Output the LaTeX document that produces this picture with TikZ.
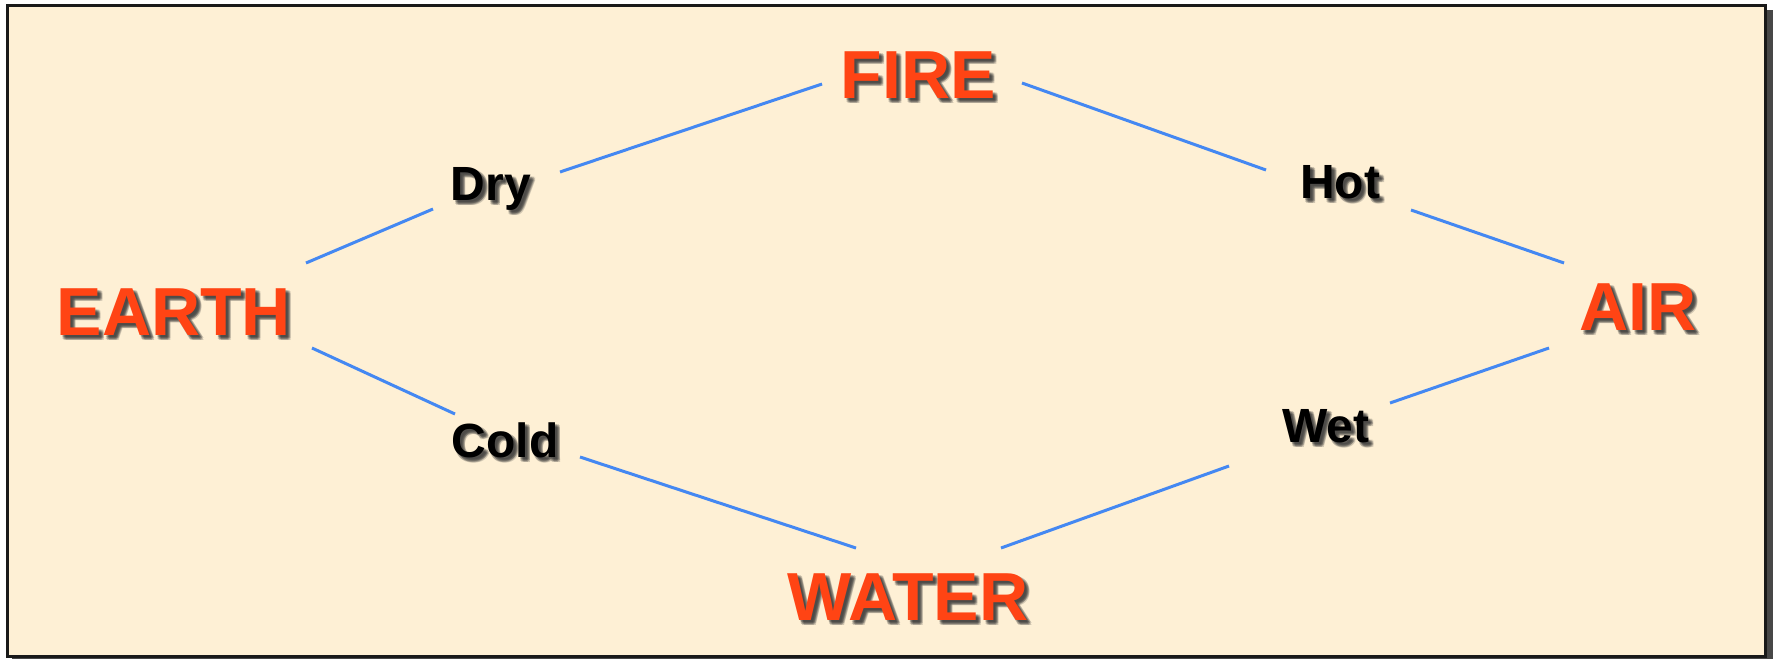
\documentclass[tikz,border=0pt]{standalone}
\usepackage{fontspec}
\setmainfont{Liberation Sans}
\definecolor{bgcol}{RGB}{254,240,213}
\definecolor{redtxt}{RGB}{255,68,20}
\definecolor{linecol}{RGB}{68,136,242}
\tikzset{
  x=1pt, y=-1pt,
  element/.style={font=\fontsize{68}{68}\selectfont\bfseries, text=redtxt, anchor=base, inner sep=0},
  quality/.style={font=\fontsize{48}{48}\selectfont\bfseries, text=black, anchor=base, inner sep=0},
  shadowtxt/.style={text=black!80, opacity=0.22},
  link/.style={draw=linecol, line width=3pt},
}
\begin{document}
\begin{tikzpicture}
\useasboundingbox (0,0) rectangle (1773,659);
\fill[white] (0,0) rectangle (1773,659);
% frame with shadow
\fill[black!72] (12,10) rectangle (1773,659);
\draw[fill=bgcol, line width=3pt, draw=black!90] (7.5,5.5) rectangle (1765,656);
% blurred shadows of texts
\foreach \t/\x/\y/\s in {FIRE/918/98/element, EARTH/174/335/element, AIR/1638/330/element, WATER/908/620/element,
  Dry/491/200/quality, Hot/1340/198/quality, Wet/1326/442/quality, Cold/505/457/quality}{
  \foreach \dx/\dy [count=\k] in {2/2,3/3,4/4,5/5,3/5,5/3,4/2,2/4}{
    \node[\s, shadowtxt] (sh\t\k) at (\x+\dx,\y+\dy) {\t};
  }
}
% texts
\node[element] (fire)  at (918,98)  {FIRE};
\node[element] (earth) at (174,335) {EARTH};
\node[element] (air)   at (1638,330) {AIR};
\node[element] (water) at (908,620) {WATER};
\node[quality] (dry)  at (491,200) {Dry};
\node[quality] (hot)  at (1340,198) {Hot};
\node[quality] (wet)  at (1326,442) {Wet};
\node[quality] (cold) at (505,457) {Cold};
% connector end points
\coordinate (fireL) at (822,84);   \coordinate (dryR) at (560,172);
\coordinate (fireR) at (1022,83);  \coordinate (hotL) at (1266,170);
\coordinate (hotR) at (1411,210);  \coordinate (airT) at (1564,263);
\coordinate (airB) at (1549,348);  \coordinate (wetR) at (1390,403);
\coordinate (wetL) at (1229,466);  \coordinate (waterR) at (1001,548);
\coordinate (waterL) at (856,548); \coordinate (coldR) at (580,457);
\coordinate (coldL) at (455,414);  \coordinate (earthB) at (312,348);
\coordinate (earthT) at (306,263); \coordinate (dryL) at (433,209);
\draw[link] (dryR) -- (fireL);
\draw[link] (fireR) -- (hotL);
\draw[link] (hotR) -- (airT);
\draw[link] (airB) -- (wetR);
\draw[link] (wetL) -- (waterR);
\draw[link] (waterL) -- (coldR);
\draw[link] (coldL) -- (earthB);
\draw[link] (earthT) -- (dryL);
\end{tikzpicture}
\end{document}
